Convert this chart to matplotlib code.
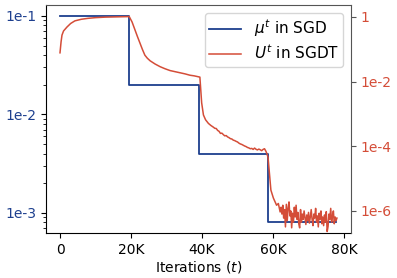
import numpy as np
import matplotlib as mpl
mpl.use('Agg')
import matplotlib.pyplot as plt
from matplotlib.ticker import FixedLocator, FixedFormatter, NullLocator

BLUE = "#1d3f8e"
RED = "#d44d38"

# learning rate schedule of SGD (step)
sgd_steps = [0, 19500, 39200, 58600, 77800]
sgd_lr = [0.1, 0.02, 0.004, 0.0008, 0.0008]

warm_iter = [0, 300, 560, 1000, 1970, 3000, 4200, 6000, 7900, 10000, 12700, 16000, 19200, 19500]
warm_u = [0.078, 0.17, 0.275, 0.37, 0.49, 0.63, 0.76, 0.85, 0.91, 0.955, 0.99, 1.01, 1.03, 1.03]

stage1_iter = [20300, 21100, 21800, 22500, 23200, 23900, 24600, 25400, 26800, 28200, 29600,
               31000, 32400, 33800, 35200, 36600, 37800, 39000, 39400, 39900, 40400, 41000,
               41800, 42500]
stage1_u = [0.70, 0.40, 0.25, 0.158, 0.10, 0.066, 0.053, 0.044, 0.035, 0.029, 0.025,
            0.022, 0.0204, 0.019, 0.0174, 0.0158, 0.0151, 0.0141, 0.0138, 2.2e-3, 9.3e-4, 6.6e-4,
            5.1e-4, 4.4e-4]

stage2_iter = [43200, 43600, 44000, 44400, 44800, 45200, 45600, 46000, 46400, 46800,
               47200, 47600, 48000, 48400, 48800, 49200, 49600, 50000, 50400, 50800,
               51200, 51600, 52000, 52400, 52800, 53200, 53600, 54000, 54400, 54800,
               55200, 55600, 56000, 56400, 56800, 57200, 57600, 58000, 58300,
               58600, 59000, 59400, 60100, 61000, 61500]
stage2_u = [3.9e-4, 3.6e-4, 3.55e-4, 3.1e-4, 2.9e-4, 2.5e-4, 2.55e-4, 2.3e-4, 2.1e-4, 2.15e-4,
            1.95e-4, 1.85e-4, 1.72e-4, 1.68e-4, 1.55e-4, 1.5e-4, 1.42e-4, 1.36e-4, 1.25e-4, 1.18e-4,
            1.14e-4, 1.08e-4, 1.02e-4, 9.8e-5, 9.2e-5, 8.9e-5, 8.4e-5, 8.6e-5, 8.0e-5, 8.8e-5,
            8.1e-5, 7.7e-5, 8.2e-5, 7.8e-5, 7.3e-5, 8.0e-5, 8.4e-5, 7.0e-5, 5.8e-5,
            4.5e-5, 1.45e-5, 4.4e-6, 2.5e-6, 1.5e-6, 1.7e-6]

stage3_iter = [62000, 62250, 62500, 62750, 63000, 63250, 63500, 63750, 64000, 64250,
               64500, 64750, 65000, 65250, 65500, 65750, 66000, 66250, 66500, 66750,
               67000, 67250, 67500, 67750, 68000, 68250, 68500, 68750, 69000, 69250,
               69500, 69750, 70000, 70250, 70500, 70750, 71000, 71250, 71500, 71750,
               72000, 72250, 72500, 72750, 73000, 73250, 73500, 73750, 74000, 74250,
               74500, 74750, 75000, 75250, 75500, 75750, 76000, 76250, 76500, 76750,
               77000, 77250, 77500, 77750, 78000]
stage3_u = [9.3e-7, 1.3e-6, 8.0e-7, 1.5e-6, 6.0e-7, 1.1e-6, 3.2e-7, 1.6e-6, 5.0e-7, 1.2e-6,
            1.9e-6, 7.0e-7, 1.0e-6, 3.0e-7, 8.5e-7, 4.5e-7, 1.3e-6, 6.5e-7, 1.5e-6, 5.5e-7,
            9.0e-7, 4.0e-7, 3.0e-7, 1.1e-6, 4.5e-7, 8.0e-7, 5.5e-7, 1.0e-6, 6.0e-7, 3.8e-7,
            7.5e-7, 5.0e-7, 9.0e-7, 4.2e-7, 6.5e-7, 1.1e-6, 5.5e-7, 3.5e-7, 8.0e-7, 6.0e-7,
            1.2e-6, 4.5e-7, 7.0e-7, 3.2e-7, 8.5e-7, 5.5e-7, 1.0e-6, 4.0e-7, 6.5e-7, 3.5e-7,
            7.5e-7, 4.5e-7, 9.5e-7, 2.3e-7, 3.3e-7, 8.0e-7, 5.5e-7, 1.2e-6, 4.5e-7, 7.0e-7,
            1.0e-6, 4.0e-7, 6.5e-7, 5.0e-7, 6.0e-7]

sgdt_iter = warm_iter + stage1_iter + stage2_iter + stage3_iter
sgdt_u = warm_u + stage1_u + stage2_u + stage3_u

left_ticks = [1e-1, 1e-2, 1e-3]
left_labels = ["1e-1", "1e-2", "1e-3"]
right_ticks = [1, 1e-2, 1e-4, 1e-6]
right_labels = ["1", "1e-2", "1e-4", "1e-6"]
x_ticks = [0, 20000, 40000, 60000, 80000]
x_labels = ["0", "20K", "40K", "60K", "80K"]

plt.rcParams['font.size'] = 10

fig = plt.figure(figsize=(3.97, 2.78), dpi=100)
ax = fig.add_axes([0.1159, 0.162, 0.7683, 0.820])
ax2 = ax.twinx()

l1, = ax.step(sgd_steps, sgd_lr, where='post', color=BLUE, lw=1.3)
l2, = ax2.plot(sgdt_iter, sgdt_u, color=RED, lw=1.1)

ax.set_yscale('log')
ax2.set_yscale('log')
ax.set_ylim(6.26e-4, 0.129)
ax2.set_ylim(2.08e-7, 2.35)
ax.set_xlim(-3940, 81970)

ax.yaxis.set_major_locator(FixedLocator(left_ticks))
ax.yaxis.set_major_formatter(FixedFormatter(left_labels))
ax.tick_params(axis='y', labelcolor=BLUE)
ax2.yaxis.set_major_locator(FixedLocator(right_ticks))
ax2.yaxis.set_major_formatter(FixedFormatter(right_labels))
ax2.yaxis.set_minor_locator(NullLocator())
ax2.tick_params(axis='y', labelcolor=RED, color='#555555')

ax.set_xticks(x_ticks)
ax.set_xticklabels(x_labels)
ax.set_xlabel(r"Iterations ($t$)", labelpad=2)

ax.spines['top'].set_visible(False)
ax.spines['right'].set_visible(False)
ax2.spines['left'].set_visible(False)
ax2.spines['bottom'].set_visible(False)
ax2.spines['top'].set_color('#555555')
ax2.spines['right'].set_color('#555555')

ax2.legend([l1, l2], [r"$\mu^t$ in SGD", r"$U^t$ in SGDT"], loc='upper right',
           fontsize=11, labelspacing=0.3, handlelength=2.1, borderpad=0.3)

fig.savefig("out.png", dpi=100)
